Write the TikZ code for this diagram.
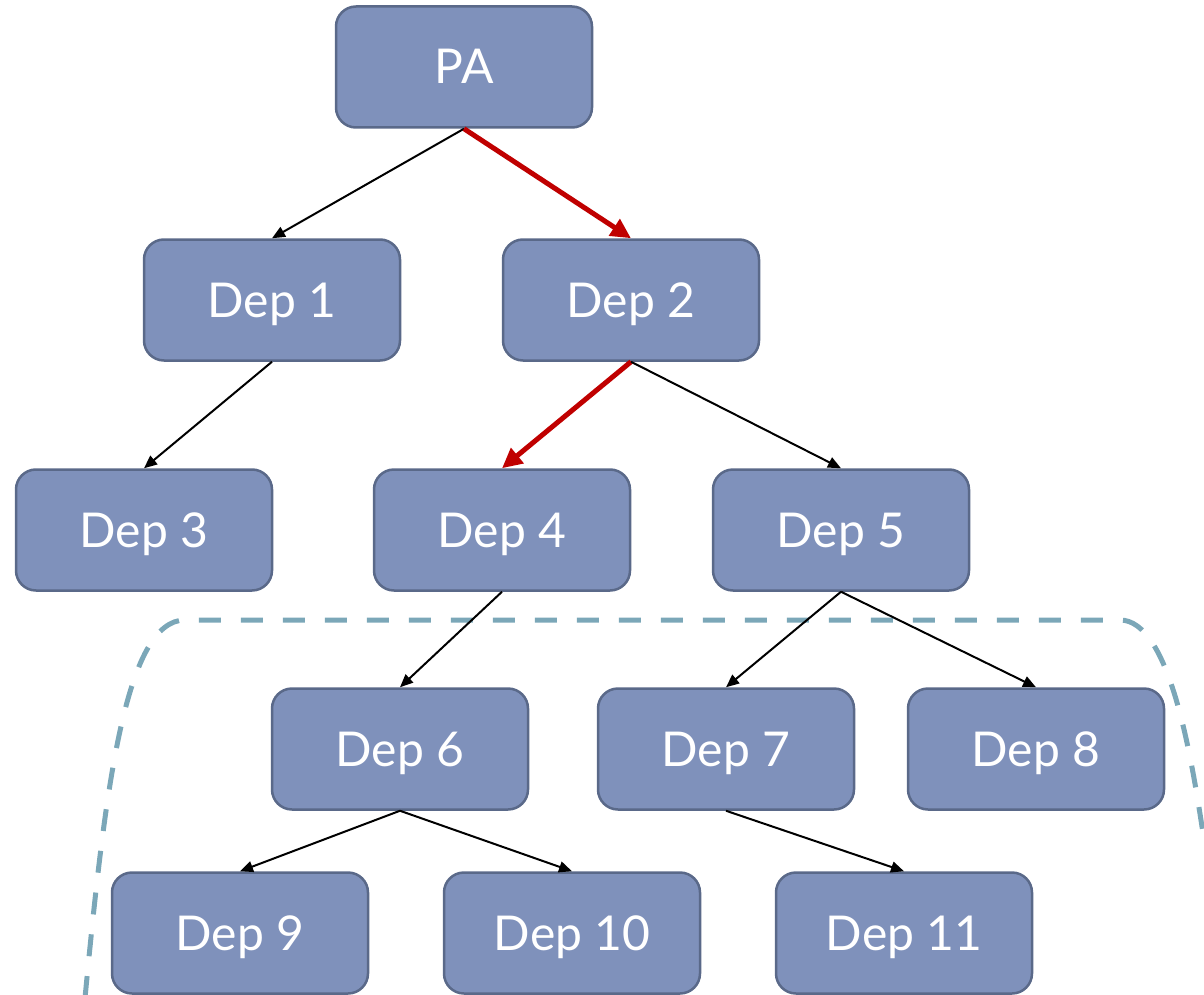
\documentclass[tikz,border=0pt]{standalone}
\usepackage{fontspec}
\setmainfont{Lato}
\usetikzlibrary{arrows.meta}
\definecolor{boxfill}{HTML}{7F91BB}
\definecolor{boxline}{HTML}{5A6989}
\definecolor{hot}{HTML}{C00000}
\definecolor{groupline}{HTML}{7BA7B8}
\tikzset{
  depbox/.style={draw=boxline, line width=2.5pt, fill=boxfill, rounded corners=20pt,
    minimum width=256pt, minimum height=121pt, inner sep=0pt, text=white,
    text height=34pt, text depth=0pt,
    font=\fontsize{48}{58}\selectfont},
  link/.style={draw=black, line width=2pt, -{Triangle[length=13pt,width=11pt]}},
  hotlink/.style={draw=hot, line width=5pt, -{Triangle[length=20pt,width=19pt]}},
  grouping/.style={draw=groupline, line width=5pt, dash pattern=on 22pt off 20pt}
}
\begin{document}
\begin{tikzpicture}[x=1pt,y=-1pt]
\useasboundingbox (0,0) rectangle (1204,995);
% dashed group around the lower levels
\draw[grouping] (85,998) .. controls (105,790) and (125,620) .. (185,620)
  -- (1120,620) .. controls (1170,620) and (1192,760) .. (1204,840);
% nodes
\node[depbox] (pa) at (464,67) {PA};
\node[depbox] (d1) at (272,300) {Dep 1};
\node[depbox] (d2) at (631,300) {Dep 2};
\node[depbox] (d3) at (144,530) {Dep 3};
\node[depbox] (d4) at (502,530) {Dep 4};
\node[depbox] (d5) at (841,530) {Dep 5};
\node[depbox] (d6) at (400,749) {Dep 6};
\node[depbox] (d7) at (726,749) {Dep 7};
\node[depbox] (d8) at (1036,749) {Dep 8};
\node[depbox] (d9) at (240,933) {Dep 9};
\node[depbox] (d10) at (572,933) {Dep 10};
\node[depbox] (d11) at (904,933) {Dep 11};
% connectors
\draw[link] (pa.south) -- (d1.north);
\draw[hotlink] (pa.south) -- (d2.north);
\draw[link] (d1.south) -- (d3.north);
\draw[hotlink] (d2.south) -- (d4.north);
\draw[link] (d2.south) -- (d5.north);
\draw[link] (d4.south) -- (d6.north);
\draw[link] (d5.south) -- (d7.north);
\draw[link] (d5.south) -- (d8.north);
\draw[link] (d6.south) -- (d9.north);
\draw[link] (d6.south) -- (d10.north);
\draw[link] (d7.south) -- (d11.north);
\end{tikzpicture}
\end{document}
